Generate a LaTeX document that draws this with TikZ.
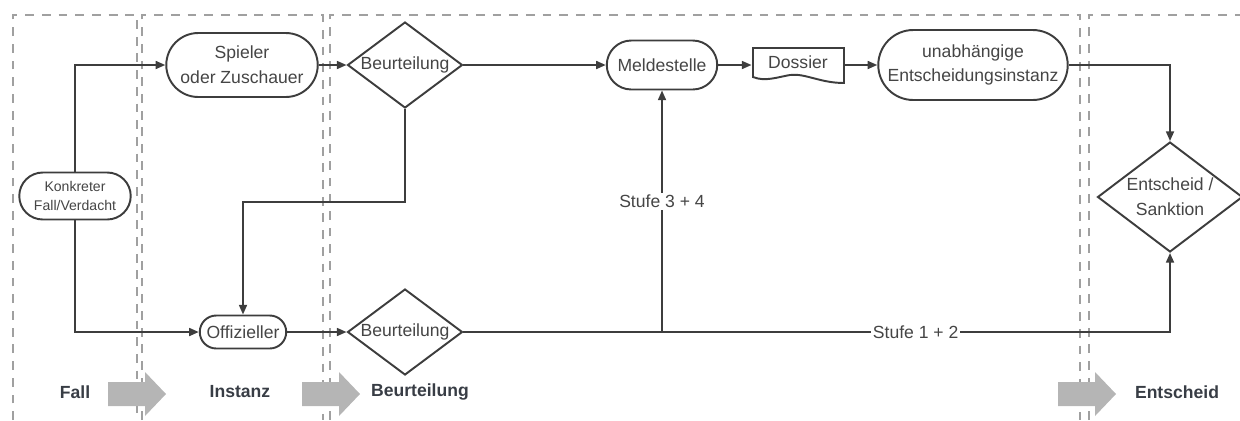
\documentclass[tikz,border=0pt]{standalone}
\usepackage{fontspec}
\setmainfont{Liberation Sans}
\usepackage{xcolor}
\usetikzlibrary{positioning}
\usetikzlibrary{shapes.geometric,shapes.misc,arrows.meta}

\definecolor{strich}{HTML}{3D3D3D}
\definecolor{schrift}{HTML}{454545}
\definecolor{bahn}{HTML}{A0A0A0}
\definecolor{pfeilgrau}{HTML}{B5B5B5}
\definecolor{titel}{HTML}{383D45}

\begin{document}
\begin{tikzpicture}
    [x=0.02cm, y=-0.02cm,
     box/.style = {draw=strich, line width=1.1pt, fill=white, text=schrift, align=center, font=\fontsize{10}{14}\selectfont},
     term/.style = {box, rounded rectangle, inner sep=1pt},
     frage/.style = {box, diamond, inner sep=0pt, shape aspect=1.33},
     conn/.style = {draw=strich, line width=1.1pt, -{Triangle[length=5.5pt,width=4.5pt]}},
     lane/.style = {draw=bahn, line width=0.9pt, dash pattern=on 5pt off 4.5pt},
     stufe/.style = {fill=white, inner sep=1pt, text=schrift, font=\fontsize{10}{12}\selectfont},
     phase/.style = {text=titel, font=\fontsize{10}{12}\selectfont\bfseries}]

    \useasboundingbox (0,0) rectangle (1240,420);

    % lanes
    \foreach \l/\r in {13/137, 142/323, 330/1080}
        \draw[lane] (\l,420) -- (\l,15) -- (\r,15) -- (\r,420);
    \draw[lane] (1089,420) -- (1089,15) -- (1240,15);

    % phase arrows
    \foreach \x in {108, 302, 1058}
        \fill[pfeilgrau] (\x,382) -- (\x+37,382) -- (\x+37,372) -- (\x+58,394) -- (\x+37,416) -- (\x+37,406) -- (\x,406) -- cycle;

    \node[phase] (lfall) at (75,392) {Fall};
    \node[phase] (linstanz) at (240,392) {Instanz};
    \node[phase] (lbeurt) at (420,392) {Beurteilung};
    \node[phase] (lentscheid) at (1177,392) {Entscheid};

    \node[term, minimum width=2.3cm, minimum height=0.94cm, font=\fontsize{8}{10.8}\selectfont] (fall) at (75,196) {Konkreter\\Fall/Verdacht};
    \node[term, minimum width=3.1cm, minimum height=1.28cm] (spieler) at (242,65) {Spieler\\oder Zuschauer};
    \node[term, minimum width=1.8cm, minimum height=0.66cm] (offiz) at (243,332) {Offizieller};
    \node[frage, minimum width=2.3cm, minimum height=1.72cm] (beurt1) at (405,65) {Beurteilung};
    \node[frage, minimum width=2.3cm, minimum height=1.72cm] (beurt2) at (405,332) {Beurteilung};
    \node[term, minimum width=2.28cm, minimum height=0.98cm] (melde) at (662,65) {Meldestelle};
    % dossier outline
    \draw[line width=1.1pt, draw=strich, fill=white] (753,77) -- (753,48) -- (844,48) -- (844,83)
        .. controls (820,83) and (805,73) .. (790,75)
        .. controls (778,77) and (765,82) .. (753,77) -- cycle;
    \node[box, draw=none, fill=none, minimum width=1.82cm, minimum height=0.68cm, text depth=3.4pt] (dossier) at (798,65) {Dossier};
    \node[term, minimum width=3.86cm, minimum height=1.4cm] (instanz) at (973,65) {unabhängige\\Entscheidungsinstanz};
    \node[frage, minimum width=2.9cm, minimum height=2.2cm] (sanktion) at (1170,197) {Entscheid /\\Sanktion};

    \coordinate (knick) at (405,202);
    \coordinate (abzw) at (melde |- beurt2);

    \draw[conn] (fall.north) |- (spieler.west);
    \draw[conn] (fall.south) |- (offiz.west);
    \draw[conn] (spieler) -- (beurt1);
    \draw[conn] (beurt1.south) -- (knick) -| (offiz.north);
    \draw[conn] (offiz) -- (beurt2);
    \draw[conn] (beurt1) -- (melde);
    \draw[conn] (melde) -- (dossier);
    \draw[conn] (dossier) -- (instanz);
    \draw[conn] (instanz.east) -| (sanktion.north);
    \draw[conn] (beurt2.east) -| node[stufe, pos=0.32] {Stufe 1 + 2} (sanktion.south);
    \draw[conn] (abzw) -- node[stufe, pos=0.54] {Stufe 3 + 4} (melde.south);
\end{tikzpicture}
\end{document}
